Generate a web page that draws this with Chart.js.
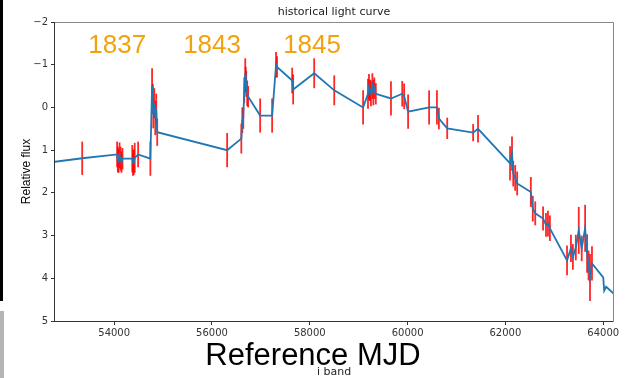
<!DOCTYPE html>
<html>
<head>
<meta charset="utf-8">
<script src="https://cdn.jsdelivr.net/npm/chart.js@4/dist/chart.umd.min.js"></script>
<style>
  body { margin: 0; background: #fff; }
  #wrap { position: relative; width: 625px; height: 378px; }
  #bar1 { position: absolute; left: 0; top: 0; width: 3px; height: 301px; background: #000; }
  #bar2 { position: absolute; left: 0; top: 311px; width: 4px; height: 67px; background: #b4b4b4; }
</style>
</head>
<body>
<div id="wrap">
  <canvas id="chart" width="625" height="378"></canvas>
  <div id="bar1"></div>
  <div id="bar2"></div>
</div>
<script>
// light curve points
const mjd = [52600, 53346, 54060, 54075, 54090, 54110, 54130, 54150, 54170, 54370, 54385, 54400,
  54420, 54490, 54740, 54775, 54790, 54800, 54820, 54840, 54860, 54880, 56310, 56600, 56620,
  56640, 56660, 56680, 56690, 56700, 56720, 56740, 56985, 57230, 57310, 57330, 57640, 57660,
  58090, 58500, 59090, 59190, 59210, 59230, 59250, 59280, 59300, 59320, 59350, 59660, 59890,
  59930, 60010, 60440, 60600, 60640, 60810, 61340, 61440, 62095, 62135, 62160, 62200, 62240,
  62520, 62560, 62610, 62770, 62830, 62870, 62910, 63260, 63340, 63380, 63440, 63500, 63560,
  63630, 63670, 63700, 63730, 63770, 64000, 64020, 64060, 64300];
const flux = [1.30, 1.19, 1.10, 1.22, 1.25, 1.12, 1.20, 1.28, 1.20, 1.20, 1.30, 1.28,
  1.18, 1.10, 1.20, -0.50, -0.20, 0.14, -0.10, 0.25, 0.03, 0.58, 1.00, 0.73, 0.30,
  0.25, -0.40, -0.80, -0.65, -0.55, -0.33, -0.25, 0.19, 0.19, -1.00, -0.95, -0.63, -0.42,
  -0.80, -0.40, 0.00, -0.32, -0.48, -0.40, -0.33, -0.50, -0.35, -0.45, -0.32, -0.21, -0.32,
  -0.26, 0.10, 0.00, 0.00, 0.26, 0.49, 0.59, 0.50, 1.31, 1.08, 1.55, 1.65, 1.78,
  1.98, 2.37, 2.48, 2.60, 2.75, 2.72, 2.83, 3.58, 3.30, 3.50, 3.28, 2.88, 3.30,
  2.83, 3.42, 3.70, 3.98, 3.65, 3.98, 4.29, 4.20, 4.45];
const fluxErr = [0.35, 0.39, 0.30, 0.30, 0.28, 0.30, 0.28, 0.25, 0.25, 0.32, 0.30, 0.30,
  0.35, 0.30, 0.40, 0.42, 0.35, 0.35, 0.35, 0.40, 0.35, 0.32, 0.40, 0.35, 0.30,
  0.25, 0.30, 0.35, 0.30, 0.30, 0.30, 0.25, 0.40, 0.40, 0.30, 0.25, 0.30, 0.35,
  0.35, 0.35, 0.40, 0.35, 0.30, 0.25, 0.30, 0.30, 0.30, 0.25, 0.25, 0.40, 0.30,
  0.30, 0.40, 0.40, 0.40, 0.25, 0.25, 0.20, 0.32, 0.40, 0.40, 0.30, 0.30, 0.28,
  0.35, 0.30, 0.28, 0.28, 0.28, 0.30, 0.30, 0.35, 0.32, 0.30, 0.30, 0.55, 0.30,
  0.55, 0.45, 0.35, 0.55, 0.40, 0, 0, 0, 0];

const xTicks = [54000, 56000, 58000, 60000, 62000, 64000];
const yTicks = [-2, -1, 0, 1, 2, 3, 4, 5];

// year annotations
const yearLabels = ['1837', '1843', '1845'];
const yearX = [53470, 55410, 57455];
const yearY = -1.27;

const tickFont = { family: 'DejaVu Sans', size: 10 };

const errorBars = {
  id: 'errorBars',
  beforeDatasetsDraw(chart) {
    const { ctx, chartArea, scales } = chart;
    ctx.save();
    ctx.beginPath();
    ctx.rect(chartArea.left, chartArea.top, chartArea.width, chartArea.height);
    ctx.clip();
    ctx.strokeStyle = 'rgba(255,0,0,0.85)';
    ctx.lineWidth = 1.8;
    for (let i = 0; i < mjd.length; i++) {
      if (!fluxErr[i]) continue;
      const x = scales.x.getPixelForValue(mjd[i]);
      ctx.beginPath();
      ctx.moveTo(x, scales.y.getPixelForValue(flux[i] - fluxErr[i]));
      ctx.lineTo(x, scales.y.getPixelForValue(flux[i] + fluxErr[i]));
      ctx.stroke();
    }
    ctx.restore();
  }
};

const decorations = {
  id: 'decorations',
  afterDraw(chart) {
    const { ctx, chartArea: a, scales } = chart;
    ctx.save();
    // spines
    ctx.lineWidth = 1;
    ctx.strokeStyle = '#888';
    ctx.beginPath();
    ctx.moveTo(a.left, a.top + 0.5);
    ctx.lineTo(a.right + 0.5, a.top + 0.5);
    ctx.lineTo(a.right + 0.5, a.bottom);
    ctx.stroke();
    ctx.strokeStyle = '#333';
    ctx.beginPath();
    ctx.moveTo(a.left - 0.5, a.top);
    ctx.lineTo(a.left - 0.5, a.bottom + 0.5);
    ctx.lineTo(a.right + 0.5, a.bottom + 0.5);
    ctx.stroke();

    // year labels
    ctx.fillStyle = '#f2a20c';
    ctx.font = '26px "Liberation Sans", Arial, sans-serif';
    ctx.textAlign = 'left';
    ctx.textBaseline = 'alphabetic';
    yearLabels.forEach((t, i) => {
      ctx.fillText(t, scales.x.getPixelForValue(yearX[i]), scales.y.getPixelForValue(yearY));
    });

    const cx = (a.left + a.right) / 2;
    ctx.fillStyle = '#222';
    ctx.textAlign = 'center';
    ctx.textBaseline = 'middle';
    ctx.font = '11px "DejaVu Sans"';
    ctx.fillText('historical light curve', cx, 12);
    ctx.fillText('i band', cx, 372);

    ctx.fillStyle = '#000';
    ctx.font = '31px "Liberation Sans", Arial, sans-serif';
    ctx.textBaseline = 'alphabetic';
    ctx.fillText('Reference MJD', 313, 365);

    ctx.font = '12px "Liberation Sans", Arial, sans-serif';
    ctx.translate(27, (a.top + a.bottom) / 2);
    ctx.rotate(-Math.PI / 2);
    ctx.textBaseline = 'middle';
    ctx.fillText('Relative flux', 0, 0);
    ctx.restore();
  }
};

new Chart(document.getElementById('chart'), {
  type: 'scatter',
  data: {
    datasets: [{
      data: mjd.map((m, i) => ({ x: m, y: flux[i] })),
      showLine: true,
      borderColor: '#1f77b4',
      borderWidth: 1.8,
      pointRadius: 0,
      tension: 0
    }]
  },
  options: {
    responsive: false,
    animation: false,
    devicePixelRatio: 1,
    layout: { padding: { top: 22, right: 12, left: 0, bottom: 0 } },
    plugins: { legend: { display: false }, tooltip: { enabled: false } },
    scales: {
      x: {
        type: 'linear',
        min: 52790,
        max: 64200,
        afterBuildTicks: s => { s.ticks = xTicks.map(v => ({ value: v })); },
        afterFit: s => { s.height = 57; },
        border: { display: false },
        grid: { drawOnChartArea: false, drawTicks: true, tickLength: 4, color: '#333' },
        ticks: { font: tickFont, color: '#333', padding: 2, maxRotation: 0, callback: v => String(v) }
      },
      y: {
        min: -2,
        max: 5,
        reverse: true,
        afterBuildTicks: s => { s.ticks = yTicks.map(v => ({ value: v })); },
        afterFit: s => { s.width = 55; },
        border: { display: false },
        grid: { drawOnChartArea: false, drawTicks: true, tickLength: 4, color: '#333' },
        ticks: { font: tickFont, color: '#333', padding: 3, callback: v => String(v).replace('-', '\u2212') }
      }
    }
  },
  plugins: [errorBars, decorations]
});
</script>
</body>
</html>
